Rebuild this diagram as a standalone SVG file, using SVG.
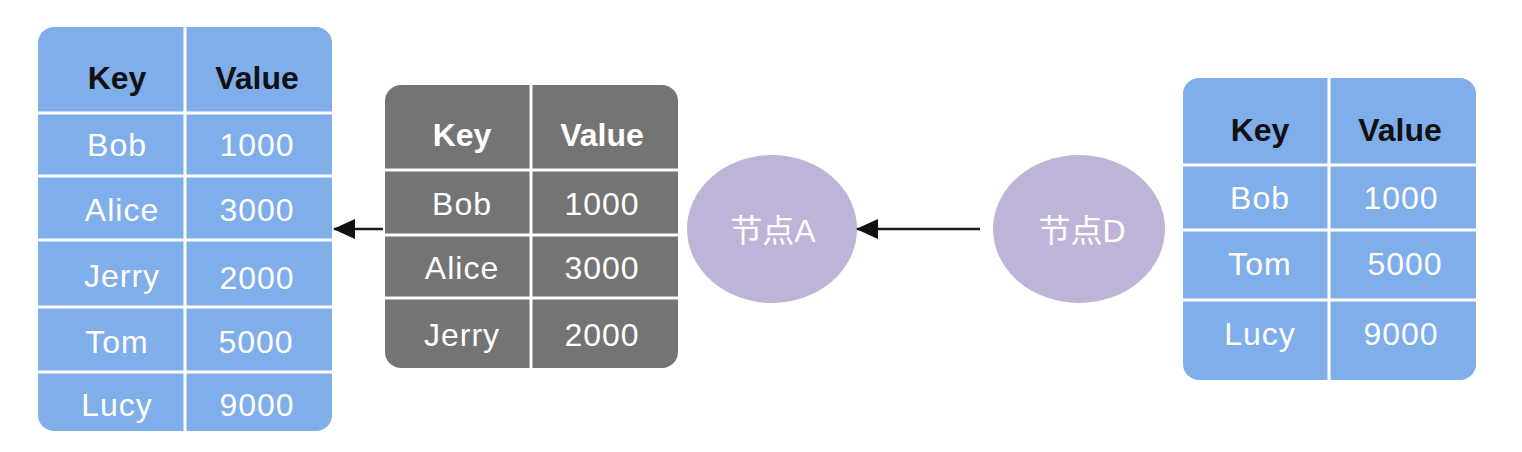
<svg xmlns="http://www.w3.org/2000/svg" width="1522" height="452" viewBox="0 0 1522 452">
<defs>
<style>
.tb{fill:#80aeea}
.tg{fill:#747474}
.sep{stroke:#ffffff;stroke-width:3;fill:none}
.hd{font-family:"Liberation Sans",Arial,sans-serif;font-size:32px;font-weight:bold;text-anchor:middle;dominant-baseline:central}
.cl{font-family:"Liberation Sans",Arial,sans-serif;font-size:32px;text-anchor:middle;dominant-baseline:central;fill:#ffffff;letter-spacing:1px}
.dark{fill:#111111}
.white{fill:#ffffff}
.node{fill:#beb4d8}
.nl{font-family:"Liberation Sans","Noto Sans CJK SC",sans-serif;font-size:32px;fill:#ffffff;text-anchor:middle;dominant-baseline:central}
.edge{stroke:#1a1a1a;stroke-width:2.5;fill:none}
</style>
<marker id="ah" viewBox="0 0 22 20" refX="21" refY="10" markerWidth="22" markerHeight="20" markerUnits="userSpaceOnUse" orient="auto">
<path d="M0,0 L22,10 L0,20 Z" fill="#111111"/>
</marker>
</defs>

<g id="table-left">
<rect class="tb" x="38" y="27" width="294" height="404" rx="16"/>
<path class="sep" d="M185,27 V431 M38,113 H332 M38,176 H332 M38,240 H332 M38,307 H332 M38,372 H332"/>
<text class="hd dark" x="117" y="78">Key</text>
<text class="hd dark" x="257" y="78">Value</text>
<text class="cl" x="117" y="145">Bob</text><text class="cl" x="257" y="145">1000</text>
<text class="cl" x="122" y="210">Alice</text><text class="cl" x="257" y="210">3000</text>
<text class="cl" x="122" y="276">Jerry</text><text class="cl" x="257" y="278">2000</text>
<text class="cl" x="117" y="342">Tom</text><text class="cl" x="256" y="342">5000</text>
<text class="cl" x="117" y="405">Lucy</text><text class="cl" x="257" y="405">9000</text>
</g>

<g id="table-mid">
<rect class="tg" x="385" y="85" width="293" height="283" rx="16"/>
<path class="sep" d="M531,85 V368 M385,170 H678 M385,235 H678 M385,298 H678"/>
<text class="hd white" x="462" y="135">Key</text>
<text class="hd white" x="602" y="135">Value</text>
<text class="cl" x="462" y="204">Bob</text><text class="cl" x="602" y="204">1000</text>
<text class="cl" x="462" y="268">Alice</text><text class="cl" x="602" y="268">3000</text>
<text class="cl" x="462" y="335">Jerry</text><text class="cl" x="602" y="335">2000</text>
</g>

<g id="node-a">
<ellipse class="node" cx="772" cy="229" rx="85" ry="74"/>
<text class="nl" x="773" y="231">节点A</text>
</g>

<g id="node-d">
<ellipse class="node" cx="1079" cy="229" rx="86" ry="74"/>
<text class="nl" x="1082" y="231">节点D</text>
</g>

<g id="table-right">
<rect class="tb" x="1183" y="78" width="293" height="302" rx="16"/>
<path class="sep" d="M1329,78 V380 M1183,165 H1476 M1183,230 H1476 M1183,300 H1476"/>
<text class="hd dark" x="1260" y="130">Key</text>
<text class="hd dark" x="1400" y="130">Value</text>
<text class="cl" x="1260" y="198">Bob</text><text class="cl" x="1401" y="198">1000</text>
<text class="cl" x="1260" y="264">Tom</text><text class="cl" x="1405" y="264">5000</text>
<text class="cl" x="1260" y="334">Lucy</text><text class="cl" x="1401" y="334">9000</text>
</g>

<g id="connectors">
<path class="edge" d="M383,229 H334" marker-end="url(#ah)"/>
<path class="edge" d="M980,229 H857" marker-end="url(#ah)"/>
</g>
</svg>
